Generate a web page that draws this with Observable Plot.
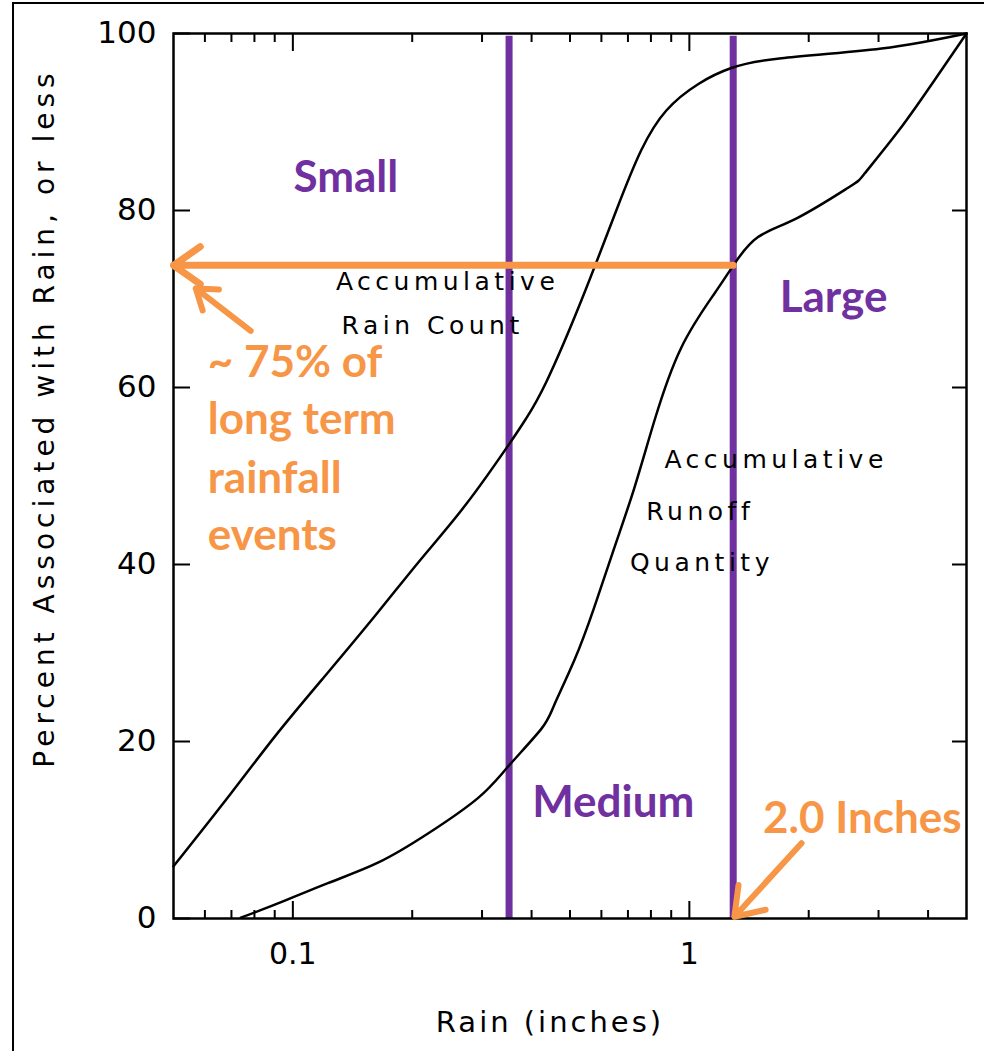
<!DOCTYPE html>
<html><head><meta charset="utf-8">
<script src="https://cdn.jsdelivr.net/npm/d3@7"></script>
<script src="https://cdn.jsdelivr.net/npm/@observablehq/plot@0.6"></script>
<style>
body{margin:0;background:#fff;}
#wrap{position:relative;width:984px;height:1051px;overflow:hidden;background:#fff;}
#border{position:absolute;left:12px;top:2px;width:990px;height:1060px;border-left:2px solid #000;border-top:2px solid #000;pointer-events:none;}
</style></head>
<body><div id="wrap"></div>
<script>
// Accumulative Rain Count curve
const rainX = [0.05,0.0697,0.0917,0.1226,0.1639,0.2104,0.2734,0.3511,0.3876,0.4354,0.5337,0.6542,0.7561,0.8748,1.054,1.276,1.707,3.054,5];
const rainCount = [5.9,14.1,21.0,27.8,34.6,40.6,46.8,53.6,56.5,60.6,69.8,80.0,86.8,91.3,94.3,96.1,97.2,98.3,100];
// Accumulative Runoff Quantity curve
const runoffX = [0.0739,0.0917,0.1226,0.1639,0.2192,0.2929,0.3495,0.4228,0.456,0.513,0.575,0.647,0.727,0.817,0.954,1.156,1.30,1.49,1.88,2.52,2.77,3.37,4.09,5];
const runoffQty = [0.1,1.7,4.0,6.3,9.6,13.6,17.2,21.4,24.1,29.2,35.1,41.9,48.7,56.3,64.5,70.6,74.0,77.0,79.2,82.6,84.2,89.0,94.3,100];
// size class boundaries (inches)
const sizeBounds = [0.351, 1.29];
const boundTop = 99.7;
// ticks
const xMajorTicks = [0.1, 1];
const xMinorTicks = [0.06,0.07,0.08,0.09,0.2,0.3,0.4,0.5,0.6,0.7,0.8,0.9,2,3,4];
const yTicks = [0,20,40,60,80,100];
const yInnerTicks = [20,40,60,80];
// class labels
const classLabels = ["Small","Large","Medium"];
const classLabelX = [0.136, 2.31, 0.643];
const classLabelY = [83.7, 70.1, 13.1];
// curve labels
const curveLabels = ["Accumulative","Rain Count","Accumulative","Runoff","Quantity"];
const curveLabelX = [0.1284,0.1327,0.865,0.779,0.708];
const curveLabelY = [71.9,67.0,51.8,45.9,40.2];
// orange notes
const noteLines = ["~ 75% of","long term","rainfall","events"];
const noteX = 0.061;
const noteY = [62.8,56.3,49.7,43.2];
const depthLabel = ["2.0 Inches"];
const depthLabelX = [2.73];
const depthLabelY = [11.3];
// orange arrows: 75% level line, and two pointers
const shareLevel = 73.8;
const shareArrowX = [1.29, 0.05];
const pointerX1 = [0.0783, 1.918];
const pointerY1 = [66.4, 8.5];
const pointerX2 = [0.0569, 1.299];
const pointerY2 = [71.2, 0.2];
// axis titles
const yTitle = ["Percent Associated with Rain, or less"];
const xTitle = ["Rain (inches)"];

const purple = "#7030A0";
const orange = "#F79646";

const rainData = rainX.map((x,i)=>({x, y: rainCount[i]}));
const runoffData = runoffX.map((x,i)=>({x, y: runoffQty[i]}));
const classData = classLabels.map((t,i)=>({t, x: classLabelX[i], y: classLabelY[i]}));
const curveData = curveLabels.map((t,i)=>({t, x: curveLabelX[i], y: curveLabelY[i]}));
const noteData = noteLines.map((t,i)=>({t, x: noteX, y: noteY[i]}));
const depthData = depthLabel.map((t,i)=>({t, x: depthLabelX[i], y: depthLabelY[i]}));
const shareArrow = [{x1: shareArrowX[0], x2: shareArrowX[1], y1: shareLevel, y2: shareLevel}];
const pointers = pointerX1.map((x1,i)=>({x1, y1: pointerY1[i], x2: pointerX2[i], y2: pointerY2[i]}));

const marks = [
  Plot.ruleX(sizeBounds, {x: d=>d, y1: 0, y2: boundTop, stroke: purple, strokeWidth: 7}),
  Plot.line(rainData, {x:"x", y:"y", curve:"natural", stroke:"black", strokeWidth:2.5}),
  Plot.line(runoffData, {x:"x", y:"y", curve:"natural", stroke:"black", strokeWidth:2.5}),
  Plot.frame({stroke:"black", strokeWidth:2.5}),
  Plot.axisX({ticks:xMajorTicks, tickSize:-17, fill:"none", label:null, strokeWidth:2}),
  Plot.axisX({ticks:xMinorTicks, tickSize:-8, fill:"none", label:null, strokeWidth:2}),
  Plot.axisX({anchor:"top", ticks:xMajorTicks, tickSize:-17, fill:"none", label:null, strokeWidth:2}),
  Plot.axisX({anchor:"top", ticks:xMinorTicks, tickSize:-8, fill:"none", label:null, strokeWidth:2}),
  Plot.axisX({ticks:xMajorTicks, tickSize:0, tickPadding:24, tickFormat:d=>String(d), label:null, fontSize:30, fill:"black"}),
  Plot.axisY({ticks:yTicks, tickSize:-17, fill:"none", label:null, strokeWidth:2}),
  Plot.axisY({anchor:"right", ticks:yInnerTicks, tickSize:-15, fill:"none", label:null, strokeWidth:2}),
  Plot.axisY({ticks:yTicks, tickSize:0, tickPadding:17, tickFormat:d=>String(d), label:null, fontSize:31, fill:"black"}),
  Plot.text(curveData, {x:"x", y:"y", text:"t", textAnchor:"start", lineAnchor:"middle", fontSize:25, fontFamily:"DejaVu Sans", fill:"black"}),
  Plot.text(yTitle, {frameAnchor:"left", dx:-128, dy:-58, rotate:-90, textAnchor:"middle", lineAnchor:"middle", fontSize:28, fontFamily:"DejaVu Sans", fill:"black"}),
  Plot.text(xTitle, {frameAnchor:"bottom", dx:-20, dy:104, textAnchor:"middle", lineAnchor:"middle", fontSize:29, fontFamily:"DejaVu Sans", fill:"black"}),
  Plot.arrow(shareArrow, {x1:"x1", y1:"y1", x2:"x2", y2:"y2", stroke: orange, strokeWidth: 7, headLength: 7, headAngle: 70, bend: 0}),
  Plot.arrow(pointers, {x1:"x1", y1:"y1", x2:"x2", y2:"y2", stroke: orange, strokeWidth: 6, headLength: 8, headAngle: 70, bend: 0}),
  Plot.text(classData, {x:"x", y:"y", text:"t", textAnchor:"middle", lineAnchor:"middle", fontSize:44, fontWeight:"bold", fontFamily:"Lato", fill: purple}),
  Plot.text(noteData, {x:"x", y:"y", text:"t", textAnchor:"start", lineAnchor:"middle", fontSize:44, fontWeight:"bold", fontFamily:"Lato", fill: orange}),
  Plot.text(depthData, {x:"x", y:"y", text:"t", textAnchor:"middle", lineAnchor:"middle", fontSize:44, fontWeight:"bold", fontFamily:"Lato", fill: orange})
];

const chart = Plot.plot({
  width: 984, height: 1051,
  marginLeft: 173, marginRight: 18, marginTop: 33, marginBottom: 133,
  x: {type: "log", domain: [0.05, 5]},
  y: {domain: [0, 100]},
  style: {fontFamily: "DejaVu Sans", fontSize: "30px", color: "black", background: "white", overflow: "visible"},
  marks
});
// letter spacing of the scanned plotter-style lettering
const spacing = new Map([
  ...curveLabels.map(t => [t, "4.5px"]),
  [yTitle[0], "5px"],
  [xTitle[0], "3px"]
]);
d3.select(chart).selectAll("text").each(function() {
  const s = spacing.get(this.textContent);
  if (s) this.style.letterSpacing = s;
});
const wrap = document.getElementById("wrap");
wrap.appendChild(chart);
const border = document.createElement("div");
border.id = "border";
wrap.appendChild(border);
</script>
</body></html>
